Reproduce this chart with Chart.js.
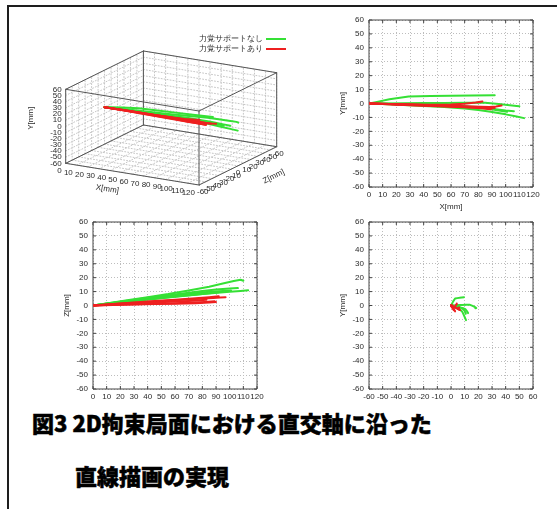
<!DOCTYPE html>
<html>
<head>
<meta charset="utf-8">
<script src="https://cdn.jsdelivr.net/npm/chart.js@4.4.1/dist/chart.umd.min.js"></script>
<style>
  body { margin: 0; background: #fff; width: 557px; height: 509px; position: relative; overflow: hidden; }
  #frame { position: absolute; left: 7px; top: 5px; width: 600px; height: 600px; border-left: 2px solid #1e1e1e; border-top: 2px solid #1e1e1e; }
  canvas { position: absolute; }
  #caption { position: absolute; left: 9px; top: 403px; width: 548px; height: 106px; background: #fff; z-index: 5;
             font-family: "Noto Sans CJK JP", sans-serif; font-weight: 900; font-size: 22px; color: #000; line-height: 22px; }
  #caption div { position: absolute; white-space: nowrap; -webkit-text-stroke: 0.5px #000; }
</style>
</head>
<body>
<div id="frame"></div>
<div id="caption">
  <div style="left:23px; top:8px;">図3 2D拘束局面における直交軸に沿った</div>
  <div style="left:66px; top:61px;">直線描画の実現</div>
</div>
<script>
// legend names
const seriesNames = ['力覚サポートなし', '力覚サポートあり'];
const greenColor = '#35e035';
const redColor = '#ee2020';

// tick labels of the three axes
const xTicks = [0, 10, 20, 30, 40, 50, 60, 70, 80, 90, 100, 110, 120];
const yTicks = [-60, -50, -40, -30, -20, -10, 0, 10, 20, 30, 40, 50, 60];
const zTicks = [-60, -50, -40, -30, -20, -10, 0, 10, 20, 30, 40, 50, 60];

// trials without force support (green), one row per trial, mm
const greenX = [
  [0, 5, 15, 29, 45, 60, 75, 92],
  [0, 10, 25, 40, 55, 70, 85, 95, 103, 108, 110],
  [0, 10, 25, 40, 55, 70, 80, 90, 100, 106],
  [0, 10, 25, 40, 55, 70, 80, 89, 100, 108, 113.5],
  [0, 10, 25, 40, 55, 70, 85, 95, 101]
];
const greenY = [
  [0, 1, 3, 5, 5.3, 5.5, 5.8, 6],
  [0, 0, 0.2, 0.3, 0.4, 0.5, 0.6, -0.3, -1.2, -1.8, -2],
  [0, -0.2, -0.6, -1, -1.5, -2, -2.6, -3.8, -5, -5.5],
  [0, -0.3, -1, -1.8, -2.6, -3.6, -4.6, -6, -7.8, -9.4, -10.5],
  [0, -0.2, -0.5, -0.9, -1.4, -2.2, -3.5, -5, -6]
];
const greenZ = [
  [0, 0.6, 1.6, 3, 4.6, 6.2, 7.8, 9.5],
  [0, 1.5, 3.8, 6, 8.2, 10.8, 13.5, 15.8, 17.6, 18.5, 17.8],
  [0, 1.5, 3.5, 5.5, 7.3, 9.2, 10.5, 11.5, 12.3, 12.5],
  [0, 1.3, 3, 4.6, 6, 7.3, 8.3, 9, 9.8, 10.5, 11],
  [0, 1.2, 3, 4.8, 6.5, 8.2, 9.8, 10.5, 10.8]
];

// trials with force support (red)
const redX = [
  [0, 15, 30, 45, 60, 70, 78, 83],
  [0, 15, 30, 45, 60, 75, 88, 93, 97],
  [0, 15, 30, 45, 60, 75, 85, 92],
  [0, 15, 30, 45, 60, 72, 82, 89],
  [0, 15, 30, 45, 60, 75, 85, 90]
];
const redY = [
  [0, -0.4, -0.7, -0.9, -0.8, -0.2, 0.7, 1.5],
  [0, -0.4, -0.8, -1.2, -1.6, -2.1, -2.6, -2.2, -1.5],
  [0, -0.5, -1, -1.5, -2, -2.6, -3.1, -3.3],
  [0, -0.4, -0.8, -1.3, -1.9, -2.7, -3.5, -4.2],
  [0, -0.6, -1.2, -1.8, -2.3, -2.9, -3.3, -3.6]
];
const redZ = [
  [0, 0.7, 1.4, 2.1, 2.8, 3.3, 3.8, 4.2],
  [0, 1, 1.9, 2.8, 3.7, 4.6, 5.4, 5.7, 5.9],
  [0, 1.1, 2.2, 3.2, 4.2, 5.2, 6, 6.6],
  [0, 0.5, 0.9, 1.3, 1.7, 2.1, 2.6, 3],
  [0, 0.4, 0.7, 1, 1.3, 1.7, 2.1, 2.5]
];

const dims = { X: [greenX, redX], Y: [greenY, redY], Z: [greenZ, redZ] };
const tickSets = { X: xTicks, Y: yTicks, Z: zTicks };

const axisFont = { family: 'Liberation Sans, Arial, sans-serif', size: 8 };
const textColor = '#2a2a2a';
const gridColor = '#bdbdbd';

function addCanvas(r) {
  const cv = document.createElement('canvas');
  cv.width = r.w; cv.height = r.h;
  cv.style.left = r.left + 'px'; cv.style.top = r.top + 'px';
  cv.style.width = r.w + 'px'; cv.style.height = r.h + 'px';
  document.body.appendChild(cv);
  return cv;
}

// gnuplot style frame with inward ticks
const frameTicks = {
  id: 'frameTicks',
  beforeDatasetsDraw(chart) {
    const { ctx, chartArea: a, scales: { x, y } } = chart;
    ctx.save();
    ctx.strokeStyle = '#444';
    ctx.lineWidth = 1;
    ctx.beginPath();
    ctx.rect(a.left, a.top, a.right - a.left, a.bottom - a.top);
    x.ticks.forEach(t => {
      const px = x.getPixelForValue(t.value);
      ctx.moveTo(px, a.top); ctx.lineTo(px, a.top + 3);
      ctx.moveTo(px, a.bottom); ctx.lineTo(px, a.bottom - 3);
    });
    y.ticks.forEach(t => {
      const py = y.getPixelForValue(t.value);
      ctx.moveTo(a.left, py); ctx.lineTo(a.left + 3, py);
      ctx.moveTo(a.right, py); ctx.lineTo(a.right - 3, py);
    });
    ctx.stroke();
    ctx.restore();
  }
};

function flatPlot(rect, area, hKey, vKey) {
  const cv = addCanvas(rect);
  const sets = [];
  [0, 1].forEach(s => {
    dims[hKey][s].forEach((hs, i) => {
      sets.push({
        label: seriesNames[s],
        data: hs.map((v, j) => ({ x: v, y: dims[vKey][s][i][j] })),
        borderColor: s === 0 ? greenColor : redColor,
        order: s === 0 ? 1 : 0,
        showLine: true
      });
    });
  });
  const hT = tickSets[hKey], vT = tickSets[vKey];
  const rectBottom = rect.top + rect.h;
  new Chart(cv, {
    type: 'scatter',
    data: { datasets: sets },
    options: {
      responsive: false, animation: false, devicePixelRatio: 1,
      elements: { point: { radius: 0 }, line: { borderWidth: 2, tension: 0, borderCapStyle: 'round', borderJoinStyle: 'round' } },
      layout: { padding: { left: 0, top: area.top - rect.top, right: rect.left + rect.w - area.right, bottom: 0 } },
      plugins: { legend: { display: false }, tooltip: { enabled: false } },
      scales: {
        x: {
          type: 'linear', min: hT[0], max: hT[hT.length - 1],
          afterBuildTicks: s => { s.ticks = hT.map(v => ({ value: v })); },
          afterFit: s => { s.height = rectBottom - area.bottom; },
          ticks: { font: axisFont, color: textColor, padding: 3, autoSkip: false, maxRotation: 0, minRotation: 0 },
          grid: { color: gridColor, drawTicks: false },
          border: { display: false, dash: [1, 2] },
          title: { display: true, text: hKey + '[mm]', font: axisFont, color: textColor,
                   padding: { top: 0, bottom: rectBottom - (area.bottom + 20) - 4.8 } }
        },
        y: {
          type: 'linear', min: vT[0], max: vT[vT.length - 1],
          afterBuildTicks: s => { s.ticks = vT.map(v => ({ value: v })); },
          afterFit: s => { s.width = area.left - rect.left; },
          ticks: { font: axisFont, color: textColor, padding: 5, autoSkip: false },
          grid: { color: gridColor, drawTicks: false },
          border: { display: false, dash: [1, 2] },
          title: { display: true, text: vKey + '[mm]', font: axisFont, color: textColor,
                   padding: { top: (area.left - 26) - rect.left - 4.8, bottom: 0 } }
        }
      }
    },
    plugins: [frameTicks]
  });
}

flatPlot({ left: 290, top: 0, w: 267, h: 215 }, { left: 369, top: 20, right: 533, bottom: 187 }, 'X', 'Y');
flatPlot({ left: 9, top: 212, w: 281, h: 208 }, { left: 93, top: 222, right: 257, bottom: 389 }, 'X', 'Z');
flatPlot({ left: 290, top: 212, w: 267, h: 208 }, { left: 369, top: 222, right: 533, bottom: 389 }, 'Z', 'Y');

// ---- 3D view (projected onto a hidden linear plane) ----
const view = { left: 9, top: 8, w: 281, h: 204, origin: [56.7, 155.3], xEdge: [133.3, 21.7], zEdge: [77.7, -38.3], yEdge: [0, -74] };
const xr = [xTicks[0], xTicks[xTicks.length - 1]];
const yr = [yTicks[0], yTicks[yTicks.length - 1]];
const zr = [zTicks[0], zTicks[zTicks.length - 1]];

function proj(X, Y, Z) {
  const fx = (X - xr[0]) / (xr[1] - xr[0]);
  const fy = (Y - yr[0]) / (yr[1] - yr[0]);
  const fz = (Z - zr[0]) / (zr[1] - zr[0]);
  return {
    x: view.origin[0] + fx * view.xEdge[0] + fz * view.zEdge[0] + fy * view.yEdge[0],
    y: view.origin[1] + fx * view.xEdge[1] + fz * view.zEdge[1] + fy * view.yEdge[1]
  };
}

const sets3d = [];
function seg(a, b, color, dash, order) {
  sets3d.push({ data: [proj(...a), proj(...b)], borderColor: color, borderWidth: 1, borderDash: dash, order: order, showLine: true });
}
// grid on floor and the two back walls
const g3 = '#c6c6c6';
xTicks.forEach(x => { seg([x, yr[0], zr[0]], [x, yr[0], zr[1]], g3, [1, 2], 3); seg([x, yr[0], zr[1]], [x, yr[1], zr[1]], g3, [1, 2], 3); });
zTicks.forEach(z => { seg([xr[0], yr[0], z], [xr[1], yr[0], z], g3, [1, 2], 3); seg([xr[0], yr[0], z], [xr[0], yr[1], z], g3, [1, 2], 3); });
yTicks.forEach(y => { seg([xr[0], y, zr[0]], [xr[0], y, zr[1]], g3, [1, 2], 3); seg([xr[0], y, zr[1]], [xr[1], y, zr[1]], g3, [1, 2], 3); });
// box edges
[yr[0], yr[1]].forEach(y => {
  seg([xr[0], y, zr[0]], [xr[1], y, zr[0]], '#555', [], 2);
  seg([xr[1], y, zr[0]], [xr[1], y, zr[1]], '#555', [], 2);
  seg([xr[1], y, zr[1]], [xr[0], y, zr[1]], '#555', [], 2);
  seg([xr[0], y, zr[1]], [xr[0], y, zr[0]], '#555', [], 2);
});
[[xr[0], zr[0]], [xr[1], zr[0]], [xr[1], zr[1]], [xr[0], zr[1]]].forEach(([x, z]) => seg([x, yr[0], z], [x, yr[1], z], '#555', [], 2));
// trials
[0, 1].forEach(s => {
  dims.X[s].forEach((xs, i) => {
    sets3d.push({
      label: seriesNames[s],
      data: xs.map((v, j) => proj(v, dims.Y[s][i][j], dims.Z[s][i][j])),
      borderColor: s === 0 ? greenColor : redColor,
      borderWidth: 2, order: s === 0 ? 1 : 0, showLine: true
    });
  });
});

const labels3d = {
  id: 'labels3d',
  afterDraw(chart) {
    const { ctx, scales: { x, y } } = chart;
    const px = p => [x.getPixelForValue(p.x), y.getPixelForValue(p.y)];
    ctx.save();
    ctx.font = '8px "Liberation Sans", Arial, sans-serif';
    ctx.fillStyle = textColor;
    ctx.textBaseline = 'middle';
    ctx.textAlign = 'right';
    yTicks.forEach(v => { const [u, w] = px(proj(xr[0], v, zr[0])); ctx.fillText(v, u - 4, w); });
    xTicks.forEach(v => { const [u, w] = px(proj(v, yr[0], zr[0])); ctx.fillText(v, u - 4, w + 7.5); });
    ctx.textAlign = 'left';
    zTicks.forEach(v => { const [u, w] = px(proj(xr[1], yr[0], v)); ctx.fillText(v, u - 2, w + 7); });
    // axis titles
    ctx.textAlign = 'center';
    const drawRot = (t, p, dx, dy, ang) => { const [u, w] = px(p); ctx.save(); ctx.translate(u + dx, w + dy); ctx.rotate(ang); ctx.fillText(t, 0, 0); ctx.restore(); };
    drawRot('Y[mm]', proj(xr[0], 0, zr[0]), -35, -8, -Math.PI / 2);
    drawRot('X[mm]', proj(60, yr[0], zr[0]), -25, 15, Math.atan2(view.xEdge[1], view.xEdge[0]));
    drawRot('Z[mm]', proj(xr[1], yr[0], 20), 23, 17, Math.atan2(view.zEdge[1], view.zEdge[0]));
    // legend
    ctx.textAlign = 'right';
    [greenColor, redColor].forEach((c, k) => {
      const ly = 31 + k * 10;
      ctx.fillStyle = textColor;
      ctx.fillText(seriesNames[k], 254, ly);
      ctx.strokeStyle = c; ctx.lineWidth = 2;
      ctx.beginPath(); ctx.moveTo(257, ly); ctx.lineTo(277, ly); ctx.stroke();
    });
    ctx.restore();
  }
};

new Chart(addCanvas(view), {
  type: 'scatter',
  data: { datasets: sets3d },
  options: {
    responsive: false, animation: false, devicePixelRatio: 1,
    elements: { point: { radius: 0 }, line: { tension: 0, borderCapStyle: 'round', borderJoinStyle: 'round' } },
    layout: { padding: 0 },
    plugins: { legend: { display: false }, tooltip: { enabled: false } },
    scales: {
      x: { type: 'linear', display: false, min: 0, max: view.w },
      y: { type: 'linear', display: false, min: 0, max: view.h, reverse: true }
    }
  },
  plugins: [labels3d]
});
</script>
</body>
</html>
